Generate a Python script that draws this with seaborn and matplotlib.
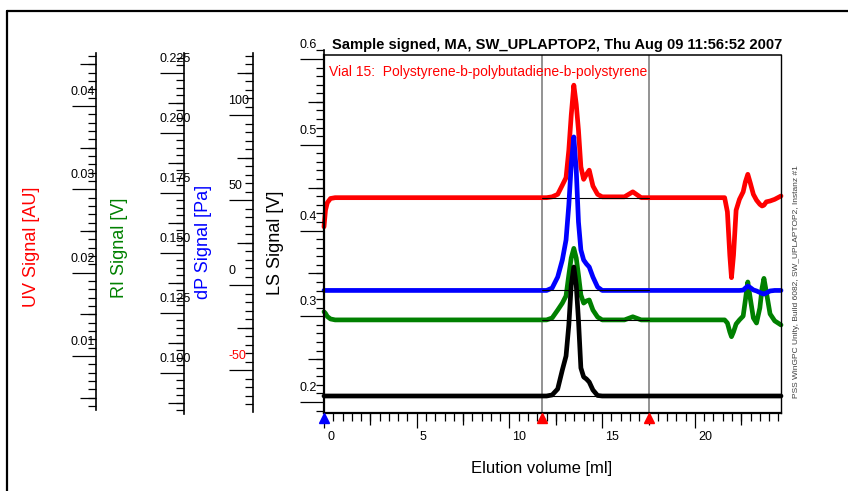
import matplotlib
matplotlib.use("Agg")
import matplotlib.pyplot as plt
import pandas as pd
import seaborn as sns
from matplotlib.lines import Line2D
from matplotlib.ticker import FixedLocator, MultipleLocator
from matplotlib.transforms import blended_transform_factory, ScaledTranslation

# ---------------- data ----------------
ELUTION_ML = [0.0, 0.08, 0.18, 0.35, 0.6, 4.0, 8.0,
              12.0, 12.3, 12.6, 12.85, 13.05, 13.2, 13.33, 13.47, 13.6, 13.72,
              13.85, 14.0, 14.15, 14.3, 14.5, 14.75, 15.0,
              16.2, 16.65, 17.1,
              21.6, 21.75, 21.88, 21.97, 22.08, 22.22, 22.4, 22.6, 22.72, 22.85,
              22.98, 23.15, 23.32, 23.5, 23.62, 23.72, 23.85, 24.05, 24.3, 24.64]

UV_AU = [0.0255, 0.0275, 0.0284, 0.0289, 0.0290, 0.0290, 0.0290,
         0.0290, 0.0291, 0.0294, 0.0305, 0.0314, 0.0347, 0.0389, 0.0425, 0.0402, 0.0371,
         0.0327, 0.0312, 0.0318, 0.0323, 0.0304, 0.0294, 0.0291,
         0.0291, 0.0297, 0.0290,
         0.0290, 0.0273, 0.0221, 0.0194, 0.0221, 0.0275, 0.0288, 0.0297, 0.0309, 0.0318,
         0.0308, 0.0294, 0.0287, 0.0282, 0.0280, 0.0281, 0.0285, 0.0286, 0.0288, 0.0292]

RI_V = [0.1254, 0.1247, 0.1234, 0.1224, 0.1220, 0.1220, 0.1220,
        0.1220, 0.1228, 0.1261, 0.1290, 0.1320, 0.1407, 0.1478, 0.1518, 0.1478, 0.1407,
        0.1324, 0.1290, 0.1299, 0.1303, 0.1261, 0.1232, 0.1220,
        0.1220, 0.1233, 0.1220,
        0.1220, 0.1207, 0.1170, 0.1150, 0.1170, 0.1203, 0.1220, 0.1236, 0.1303, 0.1378,
        0.1311, 0.1228, 0.1207, 0.1270, 0.1353, 0.1393, 0.1336, 0.1245, 0.1216, 0.1199]

DP_PA = [-3.2, -3.2, -3.2, -3.2, -3.2, -3.2, -3.2,
         -3.2, -1.8, 4.7, 14.7, 26.5, 47.1, 70.6, 87.1, 67.6, 37.1,
         20.6, 14.7, 12.4, 10.6, 4.7, -1.2, -3.2,
         -3.2, -3.2, -3.2,
         -3.2, -3.2, -3.2, -3.2, -3.2, -3.2, -3.2, -3.0, -1.8, -0.6,
         -1.5, -2.9, -3.5, -4.4, -5.0, -5.3, -4.7, -3.5, -3.2, -3.2]

LS_V = [0.2070, 0.2070, 0.2070, 0.2070, 0.2070, 0.2070, 0.2070,
        0.2070, 0.2082, 0.2152, 0.2373, 0.2536, 0.2898, 0.3364, 0.3574, 0.3364, 0.2956,
        0.2397, 0.2292, 0.2268, 0.2233, 0.2140, 0.2076, 0.2070,
        0.2070, 0.2070, 0.2070,
        0.2070, 0.2070, 0.2070, 0.2070, 0.2070, 0.2070, 0.2070, 0.2070, 0.2070, 0.2070,
        0.2070, 0.2070, 0.2070, 0.2070, 0.2070, 0.2070, 0.2070, 0.2070, 0.2070, 0.2070]

INTEGRATION_LIMITS_ML = [11.75, 17.5]
INJECTION_ML = [0.0]
BASELINE_UV = [0.0290, 0.0290]
BASELINE_RI = [0.1220, 0.1220]
BASELINE_DP = [-3.2, -3.2]
BASELINE_LS = [0.2070, 0.2070]

X_TICKS = [0, 5, 10, 15, 20]
X_TICK_LABELS = ["0", "5", "10", "15", "20"]
X_MEDIUM = [2.5, 7.5, 12.5, 17.5, 22.5]

UV_TICKS = [0.01, 0.02, 0.03, 0.04]
UV_LABELS = ["0.01", "0.02", "0.03", "0.04"]
UV_MEDIUM = [0.005, 0.015, 0.025, 0.035, 0.045]
RI_TICKS = [0.100, 0.125, 0.150, 0.175, 0.200, 0.225]
RI_LABELS = ["0.100", "0.125", "0.150", "0.175", "0.200", "0.225"]
RI_MEDIUM = [0.0875, 0.1125, 0.1375, 0.1625, 0.1875, 0.2125]
DP_TICKS = [-50, 0, 50, 100]
DP_LABELS = ["-50", "0", "50", "100"]
DP_MEDIUM = [-25, 25, 75, 125]
LS_TICKS = [0.2, 0.3, 0.4, 0.5, 0.6]
LS_LABELS = ["0.2", "0.3", "0.4", "0.5", "0.6"]
LS_MEDIUM = [0.25, 0.35, 0.45, 0.55]

TITLE = "Sample signed, MA, SW_UPLAPTOP2, Thu Aug 09 11:56:52 2007"
SAMPLE = "Vial 15:  Polystyrene-b-polybutadiene-b-polystyrene"
FOOTER = "PSS WinGPC Unity, Build 6082, SW_UPLAPTOP2, Instanz #1"

RED, GREEN, BLUE, BLACK = "#ff0000", "#008000", "#0000ff", "#000000"

# ---------------- style ----------------
sns.set_theme(style="white")
plt.rcParams["font.family"] = ["Liberation Sans", "DejaVu Sans"]
plt.rcParams.update({"axes.edgecolor": "black", "xtick.color": "black",
                     "ytick.color": "black", "text.color": "black"})

W, H = 848, 491
fig = plt.figure(figsize=(W / 100, H / 100), dpi=100, facecolor="white")


def fx(px):
    return px / W


def fy(py):
    return 1 - py / H


def px_off(dx, dy):
    return ScaledTranslation(dx / 100, dy / 100, fig.dpi_scale_trans)


def value_span(v1, p1, v2, p2, p_top, p_bot):
    k = (v2 - v1) / (p2 - p1)
    return v1 + (p_bot - p1) * k, v1 + (p_top - p1) * k


# pixel calibration of each signal scale (value, pixel row)
CAL_UV = (0.04, 106, 0.01, 356)
CAL_RI = (0.225, 72.7, 0.100, 372.7)
CAL_DP = (100, 115, -50, 370)
CAL_LS = (0.6, 59, 0.2, 402)

AX_L, AX_R, AX_T, AX_B = 324, 781, 55, 413
ax = fig.add_axes([fx(AX_L), fy(AX_B), (AX_R - AX_L) / W, (AX_B - AX_T) / H])
ax_uv = ax.twinx()
ax_ri = ax.twinx()
ax_dp = ax.twinx()
ax.set_zorder(3)
ax.patch.set_visible(False)

df = pd.DataFrame({"Elution volume [ml]": ELUTION_ML, "UV": UV_AU, "RI": RI_V,
                   "dP": DP_PA, "LS": LS_V})

for x in INTEGRATION_LIMITS_ML:
    ax_uv.axvline(x, color="#808080", lw=1.2, zorder=0.5)

series = [(ax_uv, "UV", RED, BASELINE_UV), (ax_ri, "RI", GREEN, BASELINE_RI),
          (ax_dp, "dP", BLUE, BASELINE_DP), (ax, "LS", BLACK, BASELINE_LS)]
for axis, col, color, base in series:
    sns.lineplot(data=df, x="Elution volume [ml]", y=col, ax=axis, color=color,
                 linewidth=3.4, estimator=None, sort=False, legend=False)
    ln = axis.lines[-1]
    ln.set_clip_on(False)
    ln.set_solid_capstyle("round")
    ln.set_solid_joinstyle("round")
    sns.lineplot(x=INTEGRATION_LIMITS_ML, y=base, ax=axis, color="black",
                 linewidth=0.8, estimator=None, sort=False, legend=False)

for axis, cal in [(ax_uv, CAL_UV), (ax_ri, CAL_RI), (ax_dp, CAL_DP)]:
    axis.set_ylim(*value_span(*cal, AX_T, AX_B))
    axis.set_axis_off()
ax.set_ylim(*value_span(*CAL_LS, AX_T, AX_B))
ax.set_xlim(0.0, 24.64)
ax.set_xlabel("")
ax.set_ylabel("")

# main frame
for s, lw in [("left", 1.6), ("bottom", 1.6), ("top", 1.1), ("right", 1.0)]:
    ax.spines[s].set_linewidth(lw)
    ax.spines[s].set_color("black")

ax.xaxis.set_major_locator(FixedLocator(X_TICKS))
ax.xaxis.set_minor_locator(MultipleLocator(0.5))
ax.tick_params(axis="x", which="major", bottom=True, direction="out", length=10.8,
               width=0.9, labelbottom=False)
ax.tick_params(axis="x", which="minor", bottom=True, direction="out", length=5.8, width=0.9)
ax.tick_params(axis="y", which="both", left=False, right=False, labelleft=False)
secx = ax.secondary_xaxis("bottom")
secx.set_ticks(X_MEDIUM)
secx.tick_params(bottom=True, direction="out", length=8.6, width=0.9, labelbottom=False)
secx.spines["bottom"].set_visible(False)

xt = blended_transform_factory(ax.transData, ax.transAxes) + px_off(3, -24)
for v, s in zip(X_TICKS, X_TICK_LABELS):
    ax.text(v, 0, s, transform=xt, ha="left", va="center", fontsize=9)

# injection / integration markers
tri = blended_transform_factory(ax.transData, ax.transAxes) + px_off(0, -5)
ax.plot(INJECTION_ML, [0], marker="^", ls="none", color=BLUE, ms=7.2,
        transform=tri, clip_on=False, zorder=10)
ax.plot(INTEGRATION_LIMITS_ML, [0, 0], marker="^", ls="none", color=RED, ms=7.2,
        transform=tri, clip_on=False, zorder=10)


# ---------------- rulers ----------------
def ruler(spine_px, top_px, bot_px, cal, majors, labels, medium, minor_step, colors):
    r = fig.add_axes([fx(spine_px), fy(bot_px), 0.6 / W, (bot_px - top_px) / H])
    r.set_ylim(*value_span(*cal, top_px, bot_px))
    r.patch.set_visible(False)
    for s in ("top", "right", "bottom"):
        r.spines[s].set_visible(False)
    r.spines["left"].set_linewidth(1.2)
    r.spines["left"].set_color("black")
    r.set_xticks([])
    r.yaxis.set_major_locator(FixedLocator(majors))
    r.yaxis.set_minor_locator(MultipleLocator(minor_step))
    r.tick_params(axis="y", which="major", left=True, direction="out", length=17.3,
                  width=0.9, labelleft=False)
    r.tick_params(axis="y", which="minor", left=True, direction="out", length=5.8, width=0.9)
    sec = r.secondary_yaxis("left")
    sec.set_ticks(medium)
    sec.tick_params(left=True, direction="out", length=11.5, width=0.9, labelleft=False)
    sec.spines["left"].set_visible(False)
    tr = blended_transform_factory(r.transAxes, r.transData) + px_off(-25, 14)
    for v, s, c in zip(majors, labels, colors):
        r.text(0, v, s, transform=tr, ha="left", va="center", fontsize=9, color=c)
    return r


ruler(95.7, 53, 410, CAL_UV, UV_TICKS, UV_LABELS, UV_MEDIUM, 0.001, ["black"] * 4)
ruler(184.3, 53, 414, CAL_RI, RI_TICKS, RI_LABELS, RI_MEDIUM, 0.003125, ["black"] * 6)
ruler(253.3, 53, 412, CAL_DP, DP_TICKS, DP_LABELS, DP_MEDIUM, 5, [RED, "black", "black", "black"])
ruler(324, 50, 413, CAL_LS, LS_TICKS, LS_LABELS, LS_MEDIUM, 0.01, ["black"] * 5)

# ---------------- texts ----------------
fig.text(fx(31), fy(247), "UV Signal [AU]", rotation=90, color=RED, fontsize=13,
         ha="center", va="center")
fig.text(fx(119), fy(248), "RI Signal [V]", rotation=90, color=GREEN, fontsize=13,
         ha="center", va="center")
fig.text(fx(203), fy(242), "dP Signal [Pa]", rotation=90, color=BLUE, fontsize=13,
         ha="center", va="center")
fig.text(fx(276), fy(243), "LS Signal [V]", rotation=90, color=BLACK, fontsize=13,
         ha="center", va="center")
fig.text(fx(542), fy(468), "Elution volume [ml]", fontsize=12, ha="center", va="center")
fig.text(fx(332), fy(45), TITLE, fontsize=10.6, fontweight="bold", ha="left", va="center")
fig.text(fx(329), fy(72), SAMPLE, fontsize=10, color=RED, ha="left", va="center")
fig.text(fx(797), fy(282), FOOTER, rotation=90, fontsize=6, color="#404040",
         ha="center", va="center")

# outer frame
fig.add_artist(Line2D([fx(7), fx(7)], [fy(11), -0.05], transform=fig.transFigure,
                      color="black", lw=1.6))
fig.add_artist(Line2D([fx(7), 1.05], [fy(11), fy(11)], transform=fig.transFigure,
                      color="black", lw=1.6))

fig.savefig("out.png", dpi=100, facecolor="white")
